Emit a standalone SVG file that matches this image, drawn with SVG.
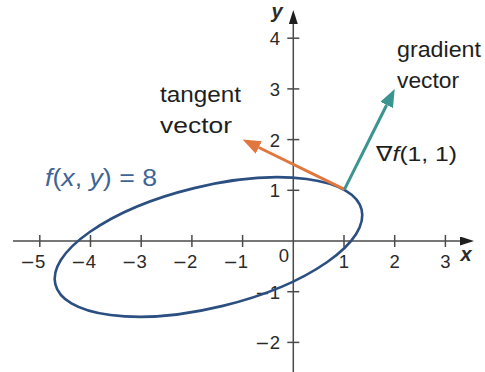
<svg xmlns="http://www.w3.org/2000/svg" width="485" height="372" viewBox="0 0 485 372">
<style>
  .axis { stroke: #4a4a4a; stroke-width: 1.5; fill: none; }
  .tick { stroke: #4a4a4a; stroke-width: 1.5; }
  .num { font-family: "Liberation Sans", "DejaVu Sans", sans-serif; font-size: 18.5px; fill: #2a2a2a; }
  .neg { font-family: "DejaVu Sans", sans-serif; font-size: 17.5px; }
  .axlbl { font-family: "Liberation Sans", "DejaVu Sans", sans-serif; font-size: 20px; font-style: italic; font-weight: bold; fill: #2a2a2a; }
  .lbl { font-family: "Liberation Sans", "DejaVu Sans", sans-serif; font-size: 22px; fill: #1e1e1e; }
  .curve { fill: none; stroke: #2b4f80; stroke-width: 2.6; }
  .vec { stroke-width: 3; fill: none; }
</style>
<defs>
  <marker id="axHead" markerUnits="userSpaceOnUse" viewBox="0 0 14 9" markerWidth="14" markerHeight="9" refX="0" refY="4.5" orient="auto">
    <path d="M0,0 L14,4.5 L0,9 z" fill="#1e1e1e"/>
  </marker>
  <marker id="tealHead" markerUnits="userSpaceOnUse" viewBox="0 0 18 14" markerWidth="18" markerHeight="14" refX="0" refY="7" orient="auto">
    <path d="M0,0 L18,7 L0,14 z" fill="#3a9490"/>
  </marker>
  <marker id="orangeHead" markerUnits="userSpaceOnUse" viewBox="0 0 18 14" markerWidth="18" markerHeight="14" refX="0" refY="7" orient="auto">
    <path d="M0,0 L18,7 L0,14 z" fill="#e2763f"/>
  </marker>
</defs>

<g id="axes">
  <line class="axis" x1="13" y1="241" x2="460" y2="241" marker-end="url(#axHead)"/>
  <line class="axis" x1="293.3" y1="372" x2="293.3" y2="24" marker-end="url(#axHead)"/>
  <g id="x-ticks">
    <line class="tick" x1="39.8" y1="235" x2="39.8" y2="247"/>
    <line class="tick" x1="90.5" y1="235" x2="90.5" y2="247"/>
    <line class="tick" x1="141.2" y1="235" x2="141.2" y2="247"/>
    <line class="tick" x1="191.9" y1="235" x2="191.9" y2="247"/>
    <line class="tick" x1="242.6" y1="235" x2="242.6" y2="247"/>
    <line class="tick" x1="344" y1="235" x2="344" y2="247"/>
    <line class="tick" x1="394.7" y1="235" x2="394.7" y2="247"/>
    <line class="tick" x1="445.4" y1="235" x2="445.4" y2="247"/>
  </g>
  <g id="y-ticks">
    <line class="tick" x1="287.3" y1="38.2" x2="299.3" y2="38.2"/>
    <line class="tick" x1="287.3" y1="88.9" x2="299.3" y2="88.9"/>
    <line class="tick" x1="287.3" y1="139.6" x2="299.3" y2="139.6"/>
    <line class="tick" x1="287.3" y1="190.3" x2="299.3" y2="190.3"/>
    <line class="tick" x1="287.3" y1="291.7" x2="299.3" y2="291.7"/>
    <line class="tick" x1="287.3" y1="342.4" x2="299.3" y2="342.4"/>
  </g>
  <g id="x-labels">
    <text class="num" x="45.3" y="268" text-anchor="end"><tspan class="neg">−</tspan>5</text>
    <text class="num" x="96" y="268" text-anchor="end"><tspan class="neg">−</tspan>4</text>
    <text class="num" x="146.7" y="268" text-anchor="end"><tspan class="neg">−</tspan>3</text>
    <text class="num" x="197.4" y="268" text-anchor="end"><tspan class="neg">−</tspan>2</text>
    <text class="num" x="248.1" y="268" text-anchor="end"><tspan class="neg">−</tspan>1</text>
    <text class="num" x="284" y="262" text-anchor="middle">0</text>
    <text class="num" x="344" y="268" text-anchor="middle">1</text>
    <text class="num" x="394.7" y="268" text-anchor="middle">2</text>
    <text class="num" x="445.4" y="268" text-anchor="middle">3</text>
  </g>
  <g id="y-labels">
    <text class="num" x="280" y="45.2" text-anchor="end">4</text>
    <text class="num" x="280" y="95.9" text-anchor="end">3</text>
    <text class="num" x="280" y="146.6" text-anchor="end">2</text>
    <text class="num" x="280" y="197.3" text-anchor="end">1</text>
    <text class="num" x="280" y="298.7" text-anchor="end"><tspan class="neg">−</tspan>1</text>
    <text class="num" x="280" y="349.4" text-anchor="end"><tspan class="neg">−</tspan>2</text>
  </g>
  <text class="axlbl" x="466" y="261" text-anchor="middle">x</text>
  <text class="axlbl" x="277" y="18" text-anchor="middle">y</text>
</g>

<g id="level-curve">
  <ellipse class="curve" cx="208.5" cy="247" rx="157.6" ry="60.6" transform="rotate(-13.7 208.5 247)"/>
  <text class="lbl" x="45" y="186" style="fill:#3f6496;font-size:23px" textLength="112" lengthAdjust="spacingAndGlyphs"><tspan font-style="italic">f</tspan>(<tspan font-style="italic">x</tspan>, <tspan font-style="italic">y</tspan>) = 8</text>
</g>

<g id="connectors">
  <line class="vec" stroke="#e2763f" x1="344.5" y1="189.3" x2="258.8" y2="147.5" marker-end="url(#orangeHead)"/>
  <line class="vec" stroke="#3a9490" x1="344.5" y1="189.3" x2="386.65" y2="105" marker-end="url(#tealHead)"/>
</g>

<g id="tangent-label">
  <text class="lbl" x="160" y="102" textLength="81" lengthAdjust="spacingAndGlyphs">tangent</text>
  <text class="lbl" x="160" y="133" textLength="72" lengthAdjust="spacingAndGlyphs">vector</text>
</g>

<g id="gradient-label">
  <text class="lbl" x="397" y="57" textLength="84" lengthAdjust="spacingAndGlyphs">gradient</text>
  <text class="lbl" x="397" y="88" textLength="62" lengthAdjust="spacingAndGlyphs">vector</text>
  <text class="lbl" x="376" y="161" style="font-size:21px" textLength="81" lengthAdjust="spacingAndGlyphs">∇<tspan font-style="italic">f</tspan>(1, 1)</text>
</g>
</svg>
